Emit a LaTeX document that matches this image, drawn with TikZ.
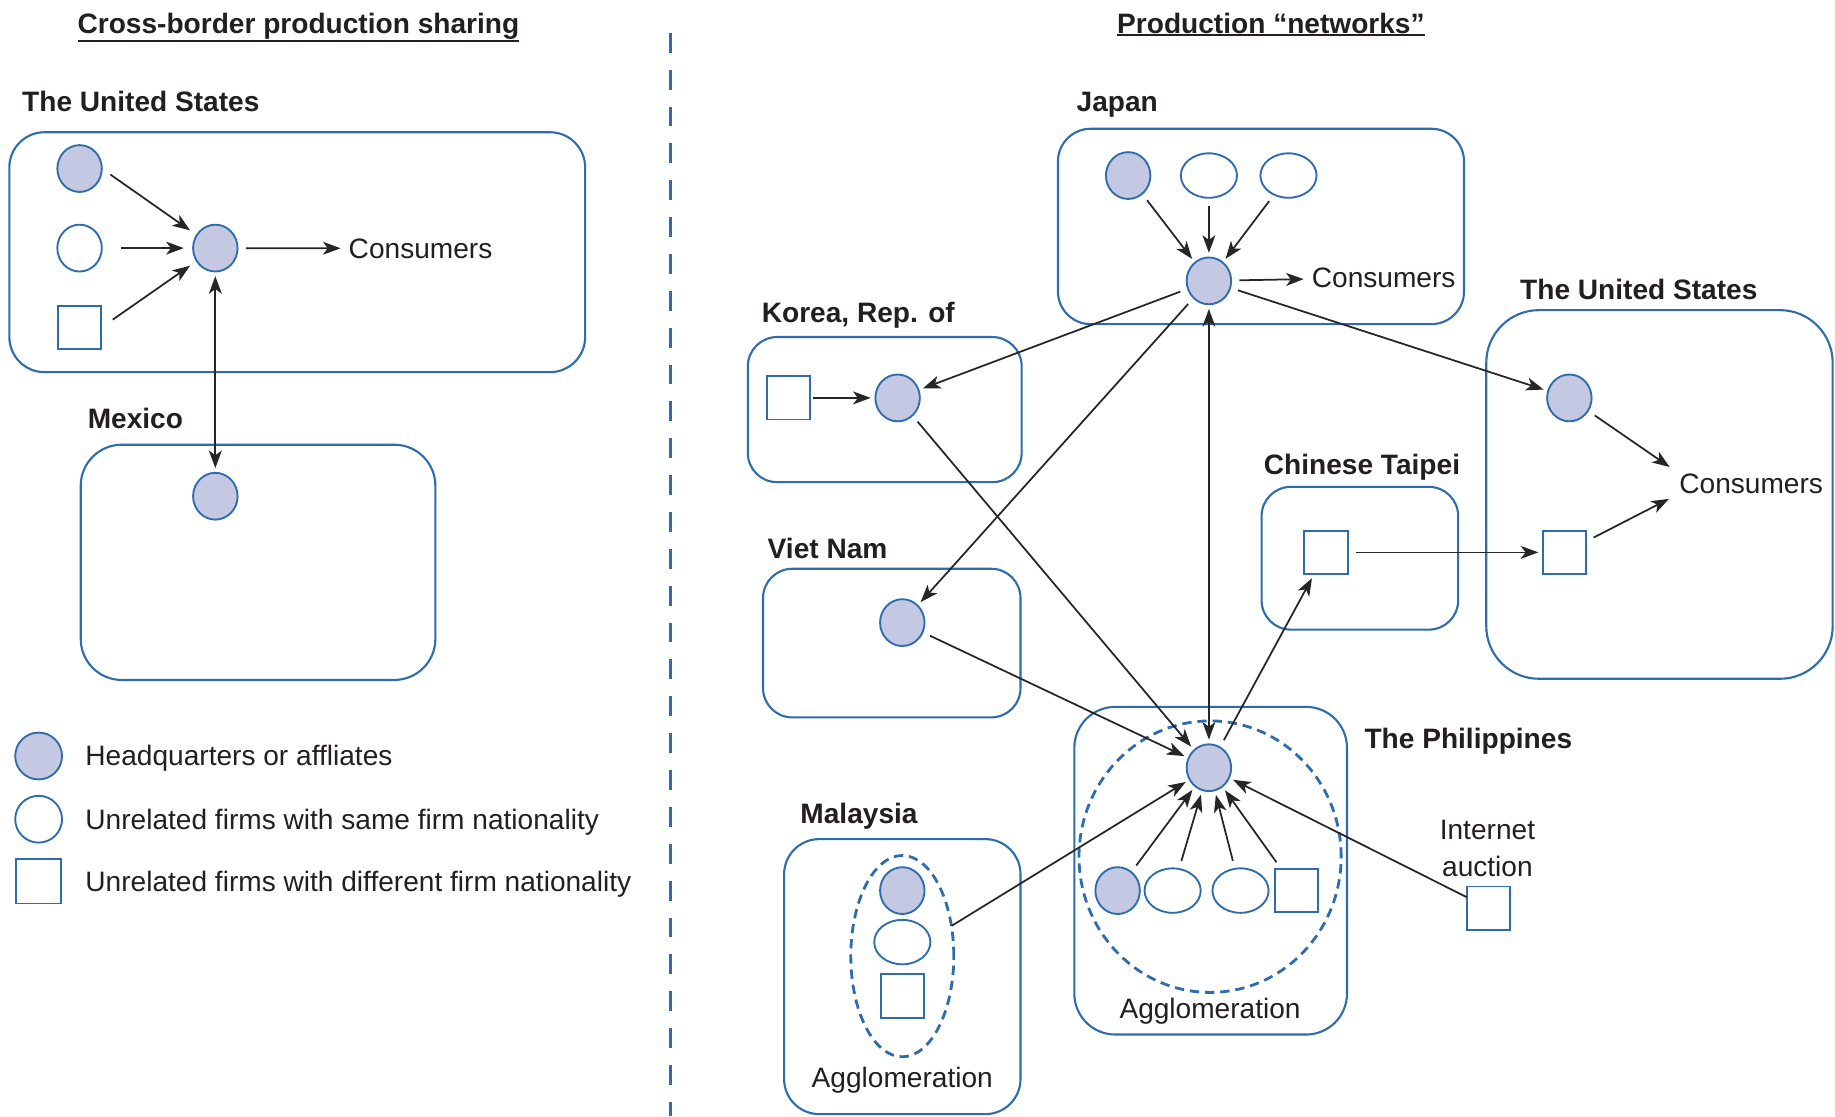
\documentclass[tikz,border=0pt]{standalone}
\usepackage{fontspec}
\setmainfont{Liberation Sans}
\usetikzlibrary{arrows.meta,shapes.geometric}
\definecolor{frameblue}{HTML}{2F6CAB}
\definecolor{hqfill}{HTML}{C5C8E2}
\definecolor{linkgray}{HTML}{262626}
\definecolor{inkcol}{HTML}{231F20}
% heading text with a rule just under the descenders
\newcommand{\headrule}[1]{\vtop{\hbox{#1}\kern0.6pt\hrule height 1.8pt}}
\begin{document}
\begin{tikzpicture}[x=1pt,y=-1pt,
  every node/.style={inner sep=0pt, outer sep=0pt, text=inkcol, font=\fontsize{24}{28}\selectfont},
  hq/.style={ellipse, draw=frameblue, fill=hqfill, line width=1.6pt, minimum width=38pt, minimum height=40pt},
  same/.style={ellipse, draw=frameblue, fill=white, line width=1.6pt, minimum width=38pt, minimum height=40pt},
  wide/.style={minimum width=48pt, minimum height=38pt},
  diff/.style={rectangle, draw=frameblue, fill=white, line width=1.6pt, minimum size=37pt},
  region/.style={rectangle, rounded corners=#1, draw=frameblue, line width=1.8pt},
  agglo/.style={ellipse, draw=frameblue, line width=2.4pt, dash pattern=on 8pt off 5pt},
  country/.style={anchor=base west, font=\bfseries\fontsize{24}{28}\selectfont},
  plain/.style={anchor=base west},
  heading/.style={anchor=base, font=\bfseries\fontsize{24}{28}\selectfont},
  link/.style={draw=linkgray, line width=1.5pt, -{Stealth[length=15pt,width=11pt,inset=4pt]}, shorten <=7pt, shorten >=4pt},
  twoway/.style={draw=linkgray, line width=1.5pt, {Stealth[length=15pt,width=11pt,inset=4pt]}-{Stealth[length=15pt,width=11pt,inset=4pt]}, shorten <=4pt, shorten >=4pt},
]
\useasboundingbox (0,0) rectangle (1568,954);

% ---------- headings and divider ----------
\node[heading] (hLeft) at (255,28.5) {\headrule{Cross-border production sharing}};
\node[heading] (hRight) at (1086,28.5) {\headrule{Production “networks”}};
\coordinate (divTop) at (573,28);
\coordinate (divBot) at (573,954);
\draw[frameblue, line width=2.5pt, dash pattern=on 17pt off 14.5pt] (divTop) -- (divBot);

% ---------- country frames ----------
\node[region=30pt, minimum width=492pt, minimum height=205pt] (usL) at (254,215.5) {};
\node[region=35pt, minimum width=303pt, minimum height=201pt] (mex) at (220.5,480.5) {};
\node[region=28pt, minimum width=347pt, minimum height=167pt] (jp) at (1077.5,193.5) {};
\node[region=45pt, minimum width=296pt, minimum height=315pt] (usR) at (1418,422.5) {};
\node[region=25pt, minimum width=234pt, minimum height=124pt] (kr) at (756,350) {};
\node[region=25pt, minimum width=220pt, minimum height=127pt] (vn) at (762,549.5) {};
\node[region=25pt, minimum width=168pt, minimum height=122pt] (tw) at (1162,477) {};
\node[region=35pt, minimum width=233pt, minimum height=280pt] (ph) at (1034.5,744) {};
\node[region=30pt, minimum width=202pt, minimum height=235pt] (my) at (771,834.5) {};

% ---------- country names ----------
\node[country] (lbUSL) at (19,95.5) {The United States};
\node[country] (lbMex) at (75,366.5) {Mexico};
\node[country] (lbJp) at (920,95.5) {Japan};
\node[country] (lbUSR) at (1299,255.5) {The United States};
\node[country] (lbKr) at (651,275.5) {Korea, Rep. of};
\node[country] (lbTw) at (1080,405.5) {Chinese Taipei};
\node[country] (lbVn) at (656,477.5) {Viet Nam};
\node[country] (lbPh) at (1166,639.5) {The Philippines};
\node[country] (lbMy) at (684,703.5) {Malaysia};

% ---------- cross-border production sharing ----------
\node[hq] (usHQ1) at (68,144) {};
\node[same] (usSame) at (68,212) {};
\node[diff] (usDiff) at (68,280) {};
\node[hq] (usHub) at (184,212) {};
\node[plain] (usCons) at (298,220.5) {Consumers};
\node[hq] (mexAff) at (184,424) {};

\draw[link, shorten <=9pt, shorten >=7pt] (usHQ1.east) -- (usHub);
\draw[link, shorten <=16pt, shorten >=8pt] (usSame) -- (usHub);
\draw[link, shorten <=12pt, shorten >=7pt] (usDiff.east) -- (usHub);
\draw[link, shorten >=7pt] (usHub) -- (usCons);
\draw[twoway] (usHub) -- (mexAff);

% ---------- legend ----------
\node[hq, minimum width=40pt] (legHQ) at (33,646) {};
\node[same, minimum width=40pt] (legSame) at (33,700) {};
\node[diff, minimum size=38pt] (legDiff) at (33,753) {};
\node[plain] (legHQtx) at (73,654.5) {Headquarters or affliates};
\node[plain] (legSametx) at (73,708.5) {Unrelated firms with same firm nationality};
\node[plain] (legDifftx) at (73,761.5) {Unrelated firms with different firm nationality};

% ---------- production networks ----------
\node[hq] (jpHQ) at (964,150) {};
\node[same, wide] (jpSame1) at (1033,150) {};
\node[same, wide] (jpSame2) at (1101,150) {};
\node[hq] (jpHub) at (1033,240) {};
\node[plain] (jpCons) at (1121,245.5) {Consumers};

\node[hq] (usRAff) at (1341,340) {};
\node[diff] (usRDiff) at (1337,472) {};
\node[plain] (usRCons) at (1435,421.5) {Consumers};

\node[diff] (krDiff) at (674,340) {};
\node[hq] (krAff) at (767,340) {};
\node[hq] (vnAff) at (771,532) {};
\node[diff] (twDiff) at (1133,472) {};

\node[agglo, minimum width=224pt, minimum height=232pt] (phAgglo) at (1034,732) {};
\node[hq] (phHub) at (1033,656) {};
\node[hq] (phHQ) at (955,761) {};
\node[same, wide] (phSame1) at (1002,761) {};
\node[same, wide] (phSame2) at (1060,761) {};
\node[diff] (phDiff) at (1108,761) {};
\node[anchor=base] (phAggloTx) at (1034,870.5) {Agglomeration};

\node[align=center, font=\fontsize{24}{32}\selectfont] (netTx) at (1271,725) {Internet\\auction};
\node[diff] (netDiff) at (1272,776) {};

\node[agglo, minimum width=88pt, minimum height=172pt] (myAgglo) at (771,817) {};
\node[hq] (myHQ) at (771,761) {};
\node[same, wide] (mySame) at (771,805) {};
\node[diff] (myDiff) at (771,851) {};
\node[anchor=base] (myAggloTx) at (771,929.5) {Agglomeration};

% ---------- flows ----------
\draw[link] (jpHQ) -- (jpHub);
\draw[link] (jpSame1) -- (jpHub);
\draw[link] (jpSame2) -- (jpHub);
\draw[link, shorten >=7pt] (jpHub) -- (jpCons);
\draw[link] (jpHub) -- (krAff);
\draw[link] (jpHub) -- (vnAff);
\draw[link] (jpHub) -- (usRAff);
\draw[twoway] (jpHub) -- (phHub);

\draw[link, shorten <=2pt] (krDiff) -- (krAff);
\draw[link] (krAff) -- (phHub);
\draw[link] (vnAff) -- (phHub);
\draw[link, shorten <=0pt] (myAgglo) -- (phHub);
\draw[link] (phHub) -- (twDiff);
\draw[link] (twDiff) -- (usRDiff);
\draw[link, shorten <=0pt] (netDiff) -- (phHub);

\draw[link] (phHQ) -- (phHub);
\draw[link] (phSame1) -- (phHub);
\draw[link] (phSame2) -- (phHub);
\draw[link] (phDiff) -- (phHub);

\draw[link, shorten >=10pt] (usRAff) -- (usRCons.north west);
\draw[link, shorten >=10pt] (usRDiff) -- (usRCons.south west);
\end{tikzpicture}
\end{document}
